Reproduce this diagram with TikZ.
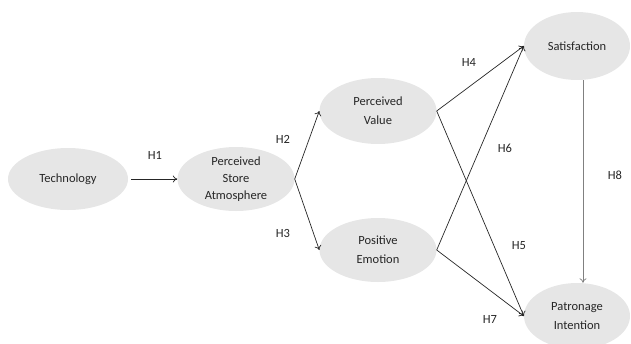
\documentclass[tikz,border=0pt]{standalone}
\usepackage{fontspec}
\setmainfont{Carlito}
\usetikzlibrary{arrows.meta,shapes.geometric}
\definecolor{bubble}{HTML}{E6E6E6}
\definecolor{ink}{HTML}{262626}
\begin{document}
\begin{tikzpicture}[x=1pt,y=-1pt,
  construct/.style={ellipse, fill=bubble, inner sep=0pt, align=center,
    font=\fontsize{12.5}{17}\selectfont, text=ink},
  path/.style={draw=ink, line width=0.7pt, -{To[length=4.5pt,width=7pt]}},
  hyp/.style={font=\fontsize{12.5}{14}\selectfont, text=ink}]
\useasboundingbox (0,0) rectangle (631,343);
\clip (0,0) rectangle (631,343);

% constructs
\node[construct, minimum width=120pt, minimum height=62pt] (tech) at (68,179) {Technology};
\node[construct, minimum width=117pt, minimum height=64pt] (psa) at (236,179) {Perceived\\Store\\Atmosphere};
\node[construct, minimum width=117pt, minimum height=66pt] (pv) at (378,111) {Perceived\\[2pt]Value};
\node[construct, minimum width=117pt, minimum height=64pt] (pe) at (378,250) {Positive\\[2pt]Emotion};
\node[construct, minimum width=106pt, minimum height=68pt] (sat) at (577,46) {Satisfaction};
\node[construct, minimum width=106pt, minimum height=66pt] (pi) at (577,316) {Patronage\\[2pt]Intention};

% hypothesised paths
\draw[path, shorten <=3pt] (tech.east) -- (psa.west);
\draw[path] (psa.east) -- (pv.west);
\draw[path] (psa.east) -- (pe.west);
\draw[path] (pv.east) -- (sat.west);
\draw[path] (pv.east) -- (pi.west);
\draw[path] (pe.east) -- (sat.west);
\draw[path] (pe.east) -- (pi.west);
\draw[path, draw=gray] ([xshift=6pt]sat.south) -- ([xshift=6pt]pi.north);

% hypothesis labels
\node[hyp] (h1) at (155,155) {H1};
\node[hyp] (h2) at (283,139) {H2};
\node[hyp] (h3) at (283,233) {H3};
\node[hyp] (h4) at (469,62) {H4};
\node[hyp] (h5) at (519,246) {H5};
\node[hyp] (h6) at (505,148) {H6};
\node[hyp] (h7) at (490,319) {H7};
\node[hyp] (h8) at (615,175) {H8};
\end{tikzpicture}
\end{document}
